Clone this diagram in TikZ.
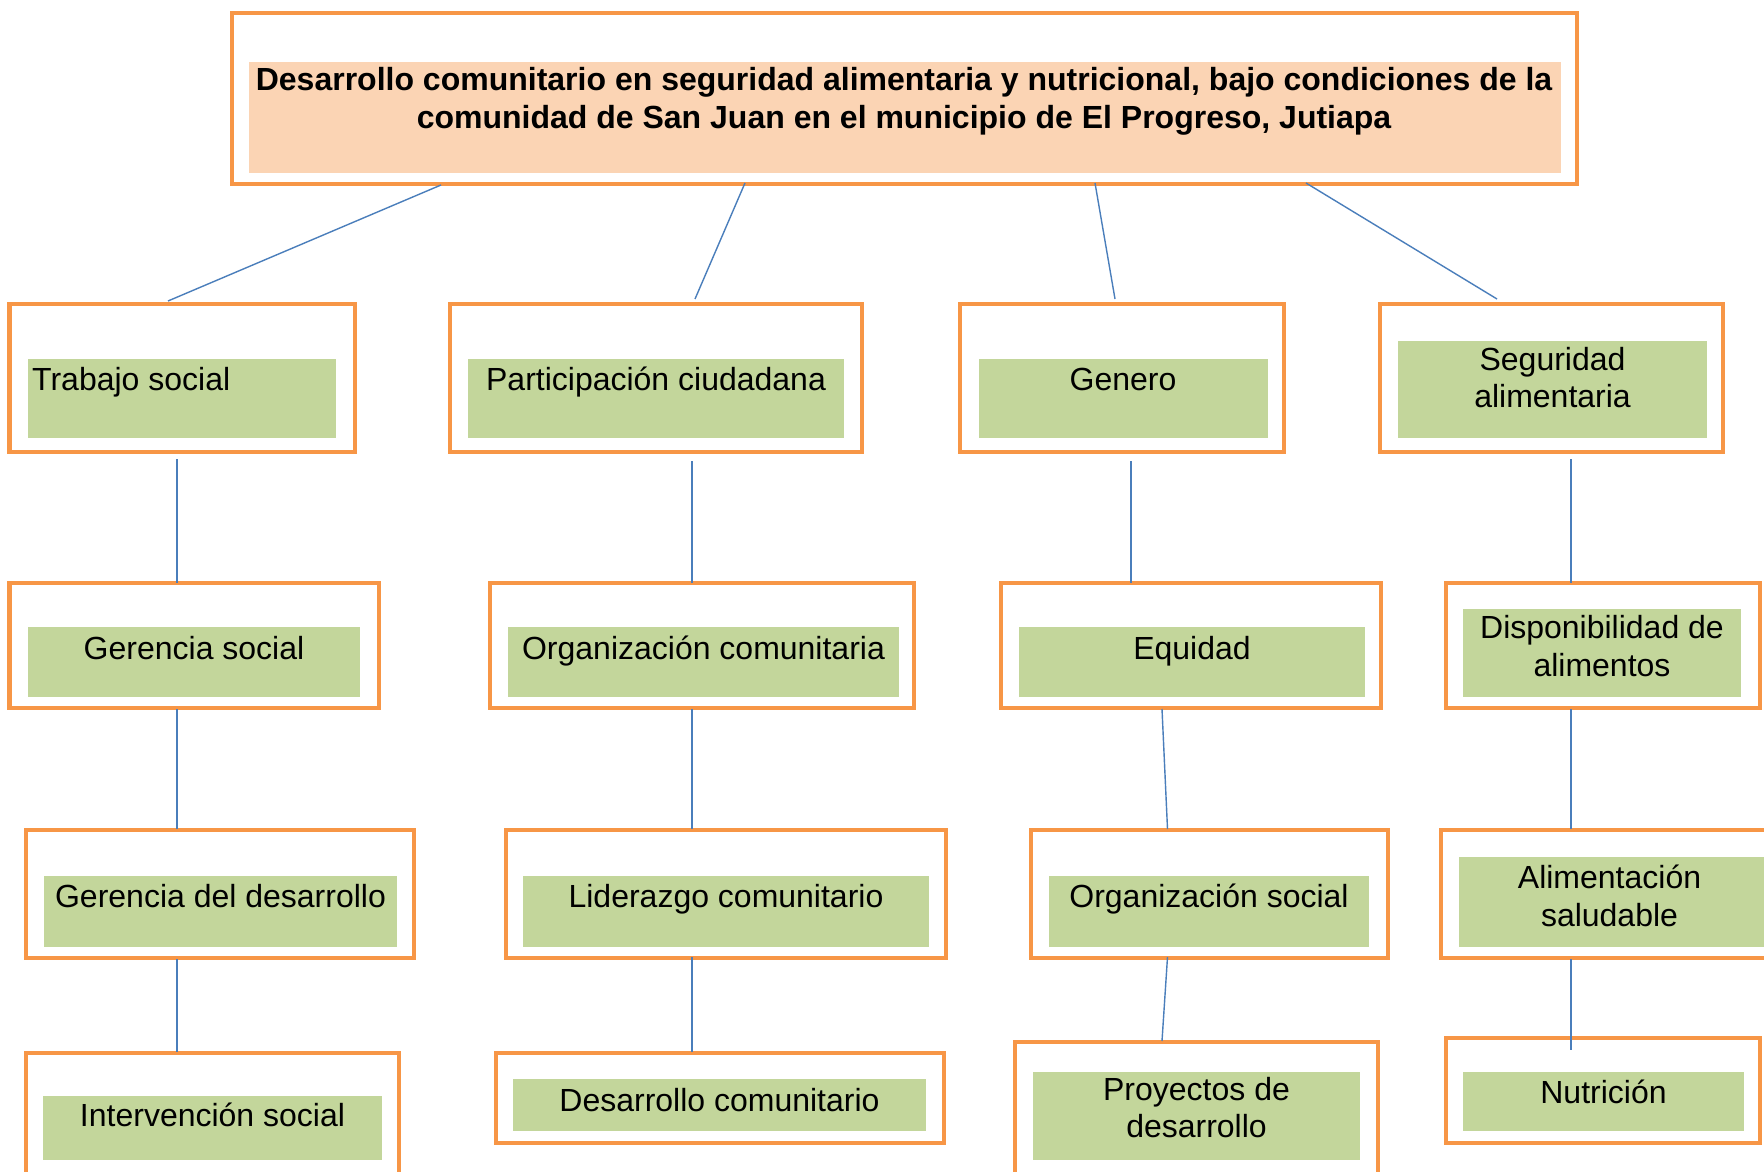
\documentclass[tikz,border=0pt]{standalone}
\usepackage{fontspec}
\setmainfont{Liberation Sans}
\definecolor{borange}{HTML}{F79646}
\definecolor{fgreen}{HTML}{C3D69B}
\definecolor{fpeach}{HTML}{FBD4B4}
\definecolor{lblue}{HTML}{4A7EBB}
\tikzset{
  obox/.style={draw=borange, line width=4.5pt, fill=white, inner sep=0pt},
  gbox/.style={fill=fgreen, draw=none, inner sep=0pt},
  pbox/.style={fill=fpeach, draw=none, inner sep=0pt},
  lbl/.style={font=\fontsize{32}{37.5}\selectfont, inner sep=0pt, align=center, anchor=base},
  tlbl/.style={font=\bfseries\fontsize{32}{38}\selectfont, inner sep=0pt, align=center, anchor=base},
  conn/.style={draw=lblue, line width=1.4pt}
}
% box: name, x1, x2, y1, y2
\newcommand{\OBox}[5]{\node[obox, minimum width=#3pt-#2pt, minimum height=#5pt-#4pt] (#1) at ({(#2+#3)/2},{(#4+#5)/2}) {};}
\newcommand{\GBox}[5]{\node[gbox, minimum width=#3pt-#2pt, minimum height=#5pt-#4pt] (#1) at ({(#2+#3)/2},{(#4+#5)/2}) {};}
\begin{document}
\begin{tikzpicture}[x=1pt,y=-1pt]
\clip (0,0) rectangle (1764,1172);
\fill[white] (0,0) rectangle (1764,1172);

% title (base anchor = baseline of last line)
\OBox{top}{232}{1577}{13}{184}
\node[pbox, minimum width=1312pt, minimum height=111pt] (topf) at (905,117.5) {};
\node[tlbl] (toptxt) at (904,128) {Desarrollo comunitario en seguridad alimentaria y nutricional, bajo condiciones de la\\comunidad de San Juan en el municipio de El Progreso, Jutiapa};

% level 1
\OBox{ts}{9.5}{355}{304}{452}
\GBox{tsf}{28}{336}{359}{438}
\node[lbl, anchor=base west] (tst) at (32,390) {Trabajo social};

\OBox{pc}{450}{862}{304}{452}
\GBox{pcf}{468}{844}{359}{438}
\node[lbl] (pct) at (656,390) {Participación ciudadana};

\OBox{ge}{960}{1284}{304}{452}
\GBox{gef}{979}{1268}{359}{438}
\node[lbl] (get) at (1123,390) {Genero};

\OBox{sa}{1380}{1723}{304}{452}
\GBox{saf}{1398}{1707}{341}{438}
\node[lbl] (sat) at (1552.5,407.5) {Seguridad\\alimentaria};

% level 2
\OBox{gs}{9.5}{379}{583}{708}
\GBox{gsf}{28}{360}{627}{697}
\node[lbl] (gst) at (194,659.5) {Gerencia social};

\OBox{oc}{490}{914}{583}{708}
\GBox{ocf}{508}{899}{627}{697}
\node[lbl] (oct) at (703.5,659.5) {Organización comunitaria};

\OBox{eq}{1001}{1381}{583}{708}
\GBox{eqf}{1019}{1365}{627}{697}
\node[lbl] (eqt) at (1192,659.5) {Equidad};

\OBox{da}{1446}{1760}{583}{708}
\GBox{daf}{1463}{1741}{609}{697}
\node[lbl] (dat) at (1602,676) {Disponibilidad de\\alimentos};

% level 3
\OBox{gd}{26}{414}{830}{958}
\GBox{gdf}{44}{397}{876}{947}
\node[lbl] (gdt) at (220.5,907.5) {Gerencia del desarrollo};

\OBox{lc}{506}{946}{830}{958}
\GBox{lcf}{523}{929}{876}{947}
\node[lbl] (lct) at (726,907) {Liderazgo comunitario};

\OBox{os}{1031}{1388}{830}{958}
\GBox{osf}{1049}{1369}{876}{947}
\node[lbl] (ost) at (1209,907) {Organización social};

\OBox{as}{1441}{1778}{830}{958}
\GBox{asf}{1459}{1764}{857}{947}
\node[lbl] (ast) at (1609.5,926) {Alimentación\\saludable};

% level 4
\OBox{is}{26}{399}{1053}{1182}
\GBox{isf}{43}{382}{1096}{1160}
\node[lbl] (ist) at (212.5,1126) {Intervención social};

\OBox{dc}{496}{944}{1053}{1143}
\GBox{dcf}{513}{926}{1079}{1131}
\node[lbl] (dct) at (719.5,1111.5) {Desarrollo comunitario};

\OBox{pd}{1015}{1378}{1042}{1182}
\GBox{pdf}{1033}{1360}{1072}{1160}
\node[lbl] (pdt) at (1196.5,1137.5) {Proyectos de\\desarrollo};

\OBox{nu}{1446}{1760}{1038}{1143}
\GBox{nuf}{1463}{1744}{1072}{1131}
\node[lbl] (nut) at (1603.5,1103) {Nutrición};

% connector end points
\coordinate (a1) at (441,185);  \coordinate (b1) at (168,301);
\coordinate (a2) at (745,183);  \coordinate (b2) at (695,299);
\coordinate (a3) at (1095,183); \coordinate (b3) at (1115,299);
\coordinate (a4) at (1306,183); \coordinate (b4) at (1497,299);
\coordinate (c1) at (177,459);  \coordinate (d1) at (177,583);
\coordinate (c2) at (692,461);  \coordinate (d2) at (692,583);
\coordinate (c3) at (1131,461); \coordinate (d3) at (1131,583);
\coordinate (c4) at (1571,459); \coordinate (d4) at (1571,583);
\coordinate (e1) at (177,709);  \coordinate (f1) at (177,829);
\coordinate (e2) at (692,709);  \coordinate (f2) at (692,829);
\coordinate (e3) at (1162,709); \coordinate (f3) at (1167.5,829);
\coordinate (e4) at (1571,709); \coordinate (f4) at (1571,829);
\coordinate (g1) at (177,959);  \coordinate (h1) at (177,1052);
\coordinate (g2) at (692,957);  \coordinate (h2) at (692,1052);
\coordinate (g3) at (1167.5,957); \coordinate (h3) at (1162,1041);
\coordinate (g4) at (1571,959); \coordinate (h4) at (1571,1050);

\foreach \p/\q in {a1/b1,a2/b2,a3/b3,a4/b4,c1/d1,c2/d2,c3/d3,c4/d4,e1/f1,e2/f2,e3/f3,e4/f4,g1/h1,g2/h2,g3/h3,g4/h4}
  \draw[conn] (\p) -- (\q);
\end{tikzpicture}
\end{document}
